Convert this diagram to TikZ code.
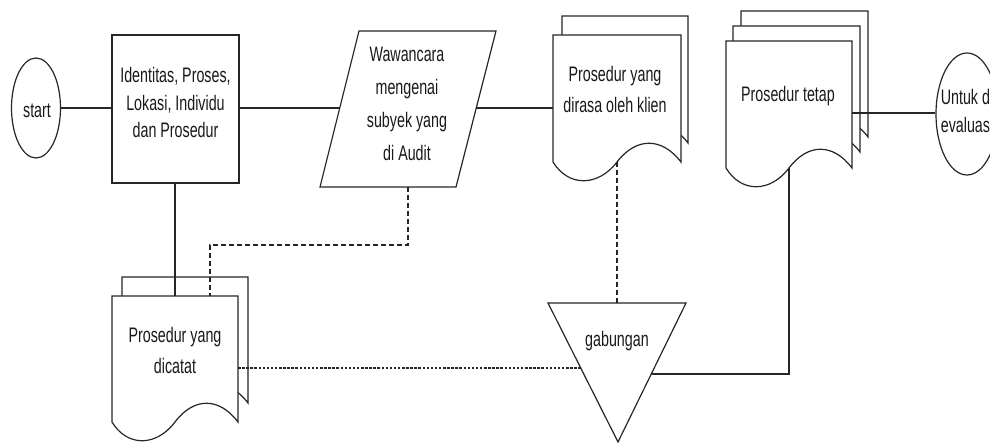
\documentclass[tikz,border=0pt]{standalone}
\usepackage{fontspec}
\setmainfont{Liberation Sans}[FakeStretch=0.68]
\usetikzlibrary{shapes.geometric}
\newcommand\docshape[4]{%
  \path[shp] (#1,#3) -- (#2,#3) -- (#2,#4)
    .. controls ({#2-0.15*(#2-#1)},{#4-25}) and ({#2-0.35*(#2-#1)},{#4-25}) .. ({(#1+#2)/2},#4)
    .. controls ({#1+0.35*(#2-#1)},{#4+25}) and ({#1+0.12*(#2-#1)},{#4+25}) .. (#1,#4) -- cycle;}
\newcommand\ml[2]{\parbox[t]{#1}{\centering #2\par}}
\begin{document}
\begin{tikzpicture}[x=1pt,y=-1pt,
  shp/.style={draw=black!85, line width=1.2pt, fill=white},
  ln/.style={draw=black!85, line width=1.2pt},
  dsh/.style={ln, dash pattern=on 5pt off 3pt},
  dts/.style={ln, dash pattern=on 2.5pt off 1.6pt},
  txt/.style={anchor=base, inner sep=0pt, text=black!90},
  f275/.style={font=\fontsize{21}{27.5}\selectfont},
  f31/.style={font=\fontsize{21}{31}\selectfont},
  f327/.style={font=\fontsize{21}{32.7}\selectfont},
  f28/.style={font=\fontsize{21}{28}\selectfont}]
\useasboundingbox (0,0) rectangle (990,443);
\clip (0,0) rectangle (990,443);

% shapes
\node[shp, ellipse, minimum width=49pt, minimum height=100pt, inner sep=0pt] (start) at (36,108) {};
\node[shp, rectangle, minimum width=127pt, minimum height=148pt, inner sep=0pt] (box) at (175.5,109) {};
\path[shp] (359,31) -- (496,31) -- (456,187) -- (320,187) -- cycle;
\coordinate (parl) at (340,108);
\coordinate (parr) at (476,108);
\coordinate (parb) at (408,187);

\docshape{562}{688}{16}{143}
\docshape{553}{681}{35}{162}
\coordinate (dirl) at (553,108);
\coordinate (dirb) at (617,162);

\docshape{741}{868}{11}{137}
\docshape{733}{860}{26}{152}
\docshape{726}{852}{41}{168}
\coordinate (tetr) at (852,113);
\coordinate (tetb) at (789,168);

\docshape{122}{248}{277}{403}
\docshape{112}{238}{296}{422}
\coordinate (dcat) at (175,296);
\coordinate (dcat2) at (210,296);
\coordinate (dcar) at (238,368);

\path[shp] (548,303) -- (686,303) -- (618,442) -- cycle;
\coordinate (trit) at (617,303);
\coordinate (tril) at (581,368);
\coordinate (trir) at (652,374);

\node[shp, ellipse, minimum width=62pt, minimum height=122pt, inner sep=0pt] (eval) at (967,114) {};

% connectors
\draw[ln] (start.east) -- (start.east -| box.west);
\draw[ln] (box.east |- parl) -- (parl);
\draw[ln] (parr) -- (dirl);
\draw[ln] (box.south -| dcat) -- (dcat);
\coordinate (bend) at (408,245);
\draw[dsh] (parb) -- (bend) -| (dcat2);
\draw[dsh] (dirb) -- (trit);
\draw[dts] (dcar) -- (tril);
\draw[ln] (tetb) |- (trir);
\draw[ln] (tetr) -- (eval.west |- tetr);

% texts
\node[txt, f275] (tstart) at (37,118) {start};
\node[txt, f275] (tbox) at (175.5,83) {\ml{150pt}{Identitas, Proses,\\Lokasi, Individu\\dan Prosedur}};
\node[txt, f327] (tpar) at (407,62) {\ml{120pt}{Wawancara\\mengenai\\subyek yang\\di Audit}};
\node[txt, f31] (tdir) at (615,82) {\ml{120pt}{Prosedur yang\\dirasa oleh klien}};
\node[txt, f275] (ttet) at (788,102) {Prosedur tetap};
\node[txt, f31] (tdca) at (175,342) {\ml{120pt}{Prosedur yang\\dicatat}};
\node[txt, f275] (tgab) at (617,346) {gabungan};
\node[txt, f28] (teval) at (967,105) {\ml{80pt}{Untuk di\\evaluasi}};
\end{tikzpicture}
\end{document}
